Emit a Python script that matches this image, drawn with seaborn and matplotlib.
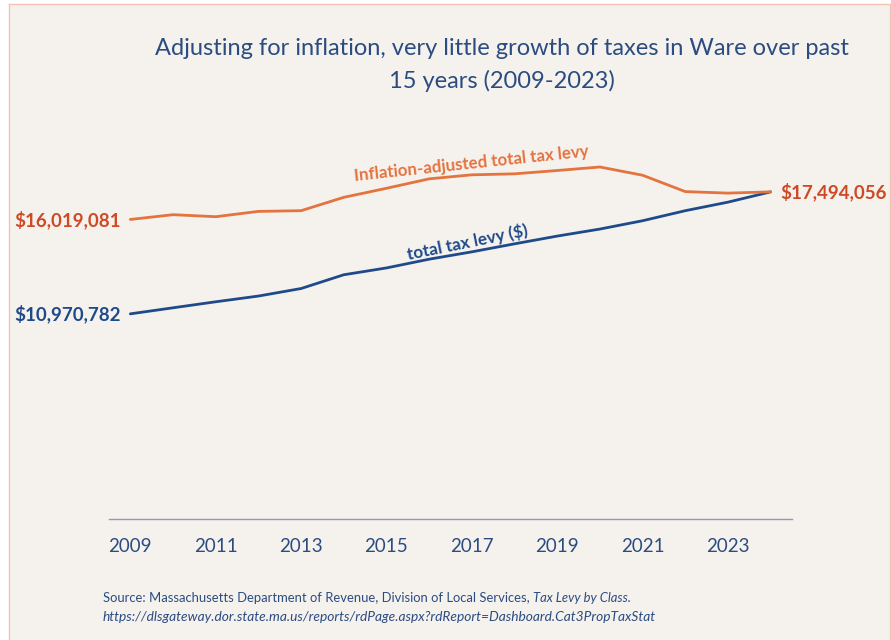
import matplotlib
matplotlib.use("Agg")
import matplotlib.pyplot as plt
import seaborn as sns
import pandas as pd

# Ware total tax levy, nominal and inflation-adjusted (dollars)
years = list(range(2009, 2025))
levy_nominal = [10970782, 11294000, 11616000, 11922000, 12325000, 13061000,
                13426000, 13893000, 14286000, 14715000, 15129000, 15505000,
                15950000, 16487000, 16944000, 17494056]
levy_adjusted = [16019081, 16273000, 16165000, 16450000, 16487000, 17202000,
                 17685000, 18190000, 18405000, 18458000, 18636000, 18824000,
                 18383000, 17508000, 17427000, 17494056]
tick_years = [2009, 2011, 2013, 2015, 2017, 2019, 2021, 2023]

title_text = ("Adjusting for inflation, very little growth of taxes in Ware over past\n"
              "15 years (2009-2023)")
label_adjusted = "Inflation-adjusted total tax levy"
label_nominal = "total tax levy ($)"
source_line1 = "Source: Massachusetts Department of Revenue, Division of Local Services, "
source_italic = "Tax Levy by Class."
source_line2 = "https://dlsgateway.dor.state.ma.us/reports/rdPage.aspx?rdReport=Dashboard.Cat3PropTaxStat"

BG = "#F5F2EE"
ORANGE = "#E4733E"
ORANGE_LBL = "#CF4A24"
BLUE = "#1F4A8A"
TEXT_BLUE = "#2B4C80"

sns.set_theme(style="white")
plt.rcParams["font.family"] = ["Lato", "DejaVu Sans"]

df = pd.DataFrame({
    "year": years * 2,
    "levy": levy_nominal + levy_adjusted,
    "series": ["nominal"] * len(years) + ["adjusted"] * len(years),
})

fig = plt.figure(figsize=(8.91, 6.40), dpi=100, facecolor="white")
# panel background with thin border
panel = fig.add_axes([9 / 891, 0, 1 - 10 / 891, 1 - 4 / 640])
panel.set_facecolor(BG)
panel.set_xticks([])
panel.set_yticks([])
for s in panel.spines.values():
    s.set_color("#F4C3B4")
    s.set_linewidth(1.0)
panel.spines["bottom"].set_visible(False)
panel.set_zorder(0)

ax = fig.add_axes([109 / 891, 1 - 519 / 640, (792 - 109) / 891, (519 - 145) / 640])
ax.set_zorder(1)
ax.patch.set_alpha(0)

sns.lineplot(data=df, x="year", y="levy", hue="series",
             palette={"nominal": BLUE, "adjusted": ORANGE},
             linewidth=2.0, legend=False, ax=ax)

ax.set_xlim(2008.5, 2024.5)
ax.set_ylim(0, 20_000_000)
ax.set_xticks(tick_years)
ax.set_xticklabels([str(y) for y in tick_years])
ax.tick_params(axis="x", length=0, pad=14, labelsize=13.5, labelcolor=TEXT_BLUE)
ax.set_yticks([])
ax.set_xlabel("")
ax.set_ylabel("")
for side in ["top", "right", "left"]:
    ax.spines[side].set_visible(False)
ax.spines["bottom"].set_color("#8C9BB8")
ax.spines["bottom"].set_linewidth(1.0)

# endpoint value labels
ax.annotate(f"${levy_adjusted[0]:,}", xy=(years[0], levy_adjusted[0]),
            xytext=(-7, 0), textcoords="offset points", ha="right", va="center",
            fontsize=13.5, fontweight="bold", color=ORANGE_LBL)
ax.annotate(f"${levy_nominal[0]:,}", xy=(years[0], levy_nominal[0]),
            xytext=(-7, 0), textcoords="offset points", ha="right", va="center",
            fontsize=13.5, fontweight="bold", color=BLUE)
ax.annotate(f"${levy_adjusted[-1]:,}", xy=(years[-1], levy_adjusted[-1]),
            xytext=(7, 0), textcoords="offset points", ha="left", va="center",
            fontsize=13.5, fontweight="bold", color=ORANGE_LBL, annotation_clip=False)

# series labels along the lines
ax.text(2017.0, 19_000_000, label_adjusted, rotation=6, ha="center", va="center",
        fontsize=12.2, fontweight="bold", color=ORANGE, rotation_mode="anchor")
ax.text(2016.9, 14_800_000, label_nominal, rotation=11.5, ha="center", va="center",
        fontsize=12.3, fontweight="bold", color=BLUE, rotation_mode="anchor")

fig.text(502 / 891, 1 - 65 / 640, title_text, ha="center", va="center",
         fontsize=17, color=TEXT_BLUE, linespacing=1.55)

t1 = fig.text(103 / 891, 1 - 598 / 640, source_line1, ha="left", va="center",
              fontsize=9.4, color=TEXT_BLUE)
ax.annotate(source_italic, xy=(1, 0.5), xycoords=t1, ha="left", va="center",
            fontsize=9.4, color=TEXT_BLUE, style="italic", annotation_clip=False)
fig.text(103 / 891, 1 - 617 / 640, source_line2, ha="left", va="center",
         fontsize=9.9, color=TEXT_BLUE, style="italic")

fig.savefig("out.png", dpi=100, facecolor="white")
